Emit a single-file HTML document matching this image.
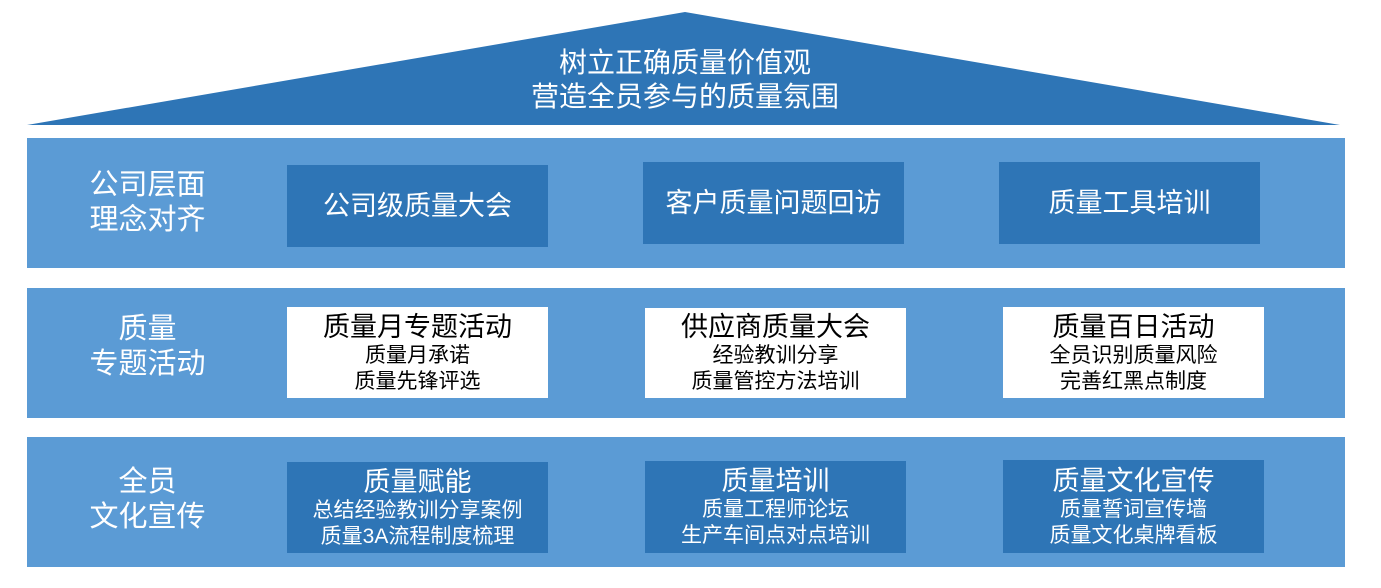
<!DOCTYPE html>
<html><head><meta charset="utf-8"><style>
body{margin:0;width:1381px;height:588px;background:#fff;position:relative;overflow:hidden;font-family:"Liberation Sans","Noto Sans CJK SC",sans-serif}
.band{position:absolute;left:27px;width:1318px;height:130px;background:#5b9bd5}
.lab{position:absolute;left:55px;width:185px;text-align:center;color:#fff;font-size:29px;line-height:35px}
.box{position:absolute;width:261px;display:flex;flex-direction:column;justify-content:center;align-items:center;text-align:center;color:#fff;background:#2e75b6}
.w{background:#fff;color:#000}
.t{font-size:27px;line-height:32px}
.s{font-size:21px;line-height:26px}
</style></head><body>
<svg style="position:absolute;left:0;top:0" width="1381" height="140"><polygon points="27,125 685,12 1340,125" fill="#2e75b6"/></svg>
<div style="position:absolute;left:460px;top:46px;width:450px;text-align:center;color:#fff;font-size:28px;line-height:34px">树立正确质量价值观<br>营造全员参与的质量氛围</div>
<div class="band" style="top:138px"></div>
<div class="band" style="top:288px"></div>
<div class="band" style="top:437px"></div>
<div class="lab" style="top:168px">公司层面<br>理念对齐</div>
<div class="lab" style="top:312px">质量<br>专题活动</div>
<div class="lab" style="top:465px">全员<br>文化宣传</div>
<div class="box t" style="left:287px;top:165px;height:82px">公司级质量大会</div>
<div class="box t" style="left:643px;top:162px;height:82px">客户质量问题回访</div>
<div class="box t" style="left:999px;top:162px;height:82px">质量工具培训</div>
<div class="box w" style="left:287px;top:307px;height:91px"><div class="t">质量月专题活动</div><div class="s">质量月承诺<br>质量先锋评选</div></div>
<div class="box w" style="left:645px;top:308px;height:90px"><div class="t">供应商质量大会</div><div class="s">经验教训分享<br>质量管控方法培训</div></div>
<div class="box w" style="left:1003px;top:307px;height:91px"><div class="t">质量百日活动</div><div class="s">全员识别质量风险<br>完善红黑点制度</div></div>
<div class="box" style="left:287px;top:462px;height:91px"><div class="t">质量赋能</div><div class="s">总结经验教训分享案例<br>质量3A流程制度梳理</div></div>
<div class="box" style="left:645px;top:461px;height:92px"><div class="t">质量培训</div><div class="s">质量工程师论坛<br>生产车间点对点培训</div></div>
<div class="box" style="left:1003px;top:460px;height:93px"><div class="t">质量文化宣传</div><div class="s">质量誓词宣传墙<br>质量文化桌牌看板</div></div>
</body></html>
